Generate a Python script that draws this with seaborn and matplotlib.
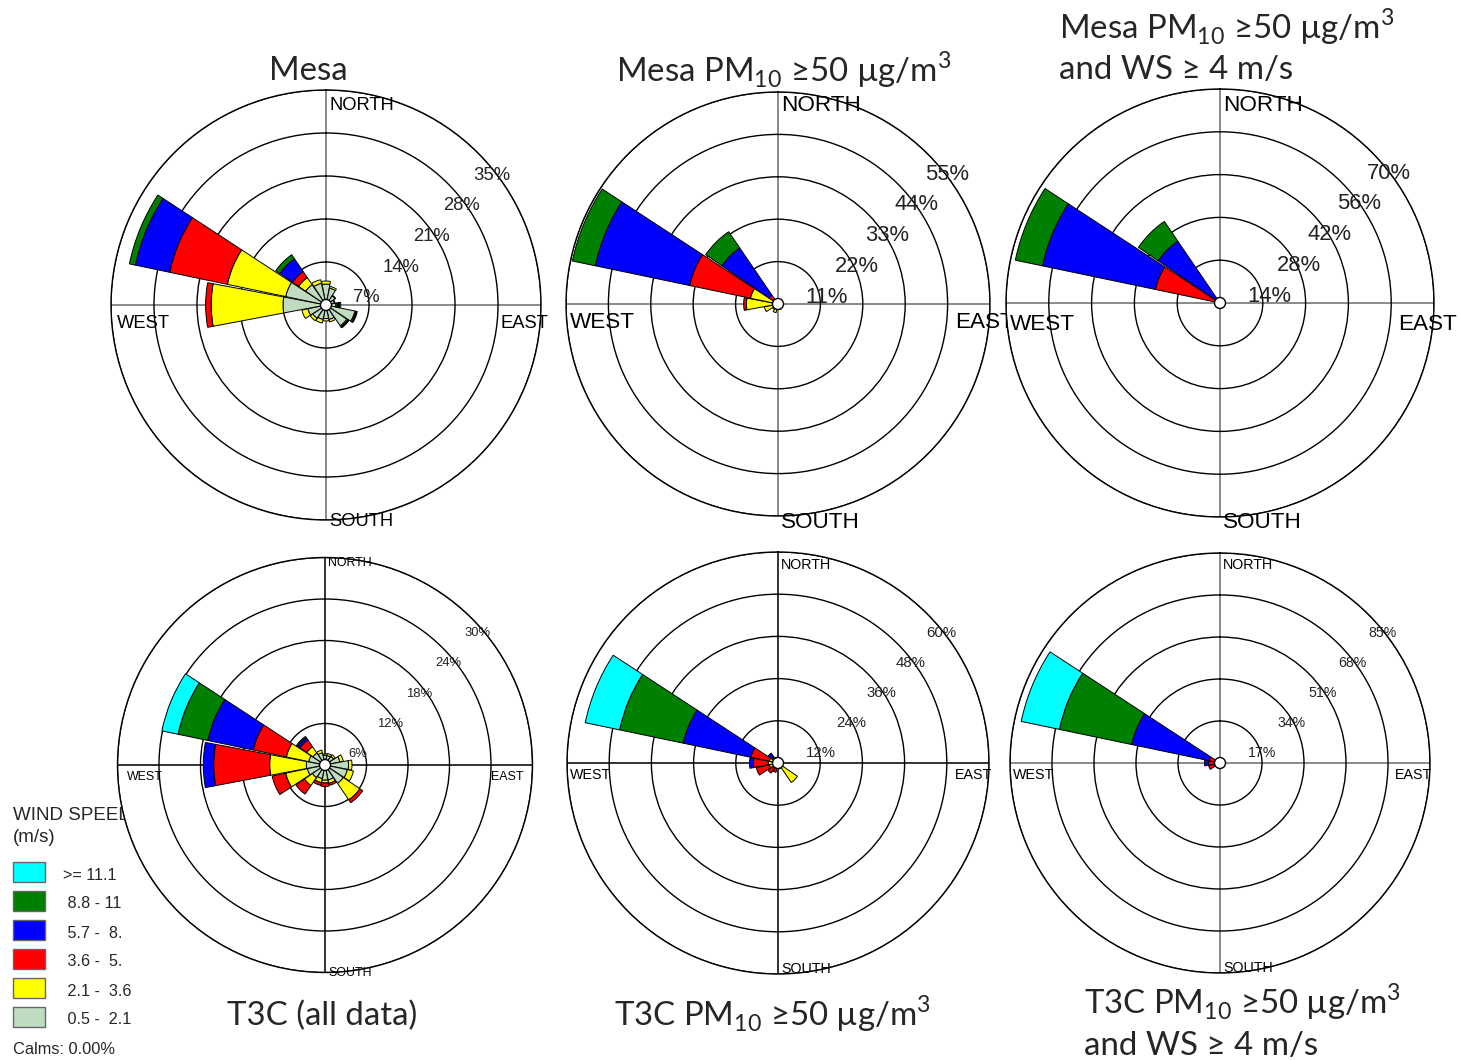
import numpy as np
import matplotlib
matplotlib.use("Agg")
import matplotlib.pyplot as plt
import seaborn as sns
from matplotlib.patches import Circle, Rectangle

sns.set_theme(style="white")
plt.rcParams['font.family'] = ['Liberation Sans', 'DejaVu Sans']

# ---------------- data ----------------
directions = ["N", "NNE", "NE", "ENE", "E", "ESE", "SE", "SSE",
              "S", "SSW", "SW", "WSW", "W", "WNW", "NW", "NNW"]
speed_classes = [" 0.5 -  2.1", " 2.1 -  3.6", " 3.6 -  5.", " 5.7 -  8.", " 8.8 - 11", ">= 11.1"]
class_colors = ["#C0DCC0", "#FFFF00", "#FF0000", "#0000FF", "#008000", "#00FFFF"]

# frequency (%) per speed class (low -> high), directions N clockwise
mesa_all = [
    [3.4, 2.8, 1.8, 1.4, 1.6, 4.8, 4.1, 2.4, 2.2, 2.4, 2.6, 3.0, 7.0, 6.7, 4.0, 3.6],
    [0.5, 0.3, 0.1, 0.1, 0.2, 0.2, 0.2, 0.4, 0.4, 0.6, 0.5, 1.0, 11.7, 9.7, 1.4, 0.6],
    [0, 0, 0, 0, 0.2, 0.05, 0.05, 0, 0, 0, 0, 0, 0.9, 9.6, 1.2, 0],
    [0, 0, 0, 0, 0.1, 0.05, 0.05, 0, 0, 0, 0, 0, 0, 5.7, 2.5, 0],
    [0, 0, 0, 0, 0.1, 0.1, 0.1, 0, 0, 0, 0, 0, 0, 1.0, 0.8, 0],
    [0, 0, 0, 0, 0.2, 0, 0, 0, 0, 0, 0, 0, 0, 0, 0, 0],
]
mesa_pm = [
    [0, 0, 0, 0, 0, 0, 0, 1.2, 1.0, 0.3, 0.2, 0.3, 0.3, 0.3, 0, 0],
    [0, 0, 0, 0, 0, 0, 0, 0.3, 0, 2.0, 1.5, 3.3, 7.9, 7.0, 1.2, 0],
    [0, 0, 0, 0, 0, 0, 0, 0, 0, 0, 0, 0, 0.7, 16.1, 1.6, 0],
    [0, 0, 0, 0, 0, 0, 0, 0, 0, 0, 0, 0, 0, 25.0, 14.8, 0],
    [0, 0, 0, 0, 0, 0, 0, 0, 0, 0, 0, 0, 0, 6.1, 5.1, 0],
    [0] * 16,
]
mesa_pm_ws = [
    [0] * 16,
    [0] * 16,
    [0, 0, 0, 0, 0, 0, 0, 0, 0, 0, 0, 0, 0, 21.6, 1.0, 0],
    [0, 0, 0, 0, 0, 0, 0, 0, 0, 0, 0, 0, 0, 37.7, 23.5, 0],
    [0, 0, 0, 0, 0, 0, 0, 0, 0, 0, 0, 0, 0, 9.1, 7.8, 0],
    [0] * 16,
]
t3c_all = [
    [1.4, 1.4, 1.5, 2.2, 3.4, 3.3, 3.2, 2.2, 2.2, 2.0, 2.2, 2.6, 2.7, 2.4, 2.1, 1.8],
    [0.2, 0.3, 0.3, 0.5, 0.5, 0.9, 2.9, 0.5, 0.4, 0.6, 1.4, 3.2, 5.3, 3.3, 1.1, 0.4],
    [0, 0, 0, 0, 0, 0, 0.5, 0.3, 0.5, 0.4, 1.5, 2.0, 8.1, 4.9, 1.2, 0],
    [0, 0, 0, 0, 0, 0, 0, 0, 0, 0, 0, 0, 1.5, 6.7, 0.4, 0],
    [0, 0, 0, 0, 0, 0, 0, 0, 0, 0, 0, 0, 0, 4.4, 0.2, 0],
    [0, 0, 0, 0, 0, 0, 0, 0, 0, 0, 0, 0, 0, 2.4, 0, 0],
]
t3c_pm = [
    [0.5, 0, 0, 0, 0.8, 0.5, 1.2, 1.2, 1.0, 0, 0, 0, 0, 0, 0, 0.5],
    [0, 0, 0, 0, 0, 0, 5.5, 0.5, 0.5, 1.2, 1.5, 2.5, 2.8, 2.5, 1.0, 1.2],
    [0, 0, 0, 0, 0, 0, 0, 0, 0, 1.5, 2.0, 3.8, 4.2, 5.4, 1.2, 0],
    [0, 0, 0, 0, 0, 0, 0, 0, 0, 0, 0, 0, 1.1, 19.6, 1.2, 0],
    [0, 0, 0, 0, 0, 0, 0, 0, 0, 0, 0, 0, 0, 18.5, 0, 0],
    [0, 0, 0, 0, 0, 0, 0, 0, 0, 0, 0, 0, 0, 10.0, 0, 0],
]
t3c_pm_ws = [
    [0] * 16,
    [0, 0, 0, 0, 0, 0, 0, 0, 0, 0, 0.3, 0.5, 0.5, 0.5, 0.3, 0],
    [0, 0, 0, 0, 0, 0, 0, 0, 0, 0, 1.2, 4.2, 4.1, 4.0, 1.5, 0],
    [0, 0, 0, 0, 0, 0, 0, 0, 0, 0, 0, 0, 1.7, 32.0, 0, 0],
    [0, 0, 0, 0, 0, 0, 0, 0, 0, 0, 0, 0, 0, 29.9, 0, 0],
    [0, 0, 0, 0, 0, 0, 0, 0, 0, 0, 0, 0, 0, 15.8, 0, 0],
]
ring_max = [35, 55, 70, 30, 60, 85]
calms_text = "Calms: 0.00%"

# ---------------- layout ----------------
W, H = 1461, 1061
fig = plt.figure(figsize=(W / 100, H / 100), dpi=100)
fig.patch.set_facecolor("white")

panel_data = [mesa_all, mesa_pm, mesa_pm_ws, t3c_all, t3c_pm, t3c_pm_ws]
geom = [(326, 305, 215), (778, 304, 212), (1220, 303, 214),
        (325, 765, 207.5), (778, 763, 211), (1220, 763, 210)]
dir_fs = [13.2, 16.2, 16.2, 8.9, 10.3, 10.3]
pct_fs = [13.3, 15.8, 15.8, 9.4, 10.8, 10.2]
cross_col = ["#777777", "#777777", "#777777", "#111111", "#111111", "#777777"]
# label offsets (px) relative to R
north_off = [16, 13, 16, 5.5, 13, 12]       # dy_up = R - off
south_off = [2, 7, 6, 0, -5, -5]            # dy_down = R + off
west_off = [6, 4, 4, 9.5, 3, 3]             # dx = -(R - off)
east_off = [41, 35, 36, 41.5, 34, 35]       # dx = R - off
west_dy = [18, 19, 21, 12, 12, 12]
pct_pat = [(27, 30, 7, 30.7), (27, 30, 7, 30.7), (27, 30, 7, 30.7),
           (23, 29, 11, 30.2), (28, 30, 10, 30.0), (28, 30, 10, 30.0)]

theta = np.deg2rad(np.arange(16) * 22.5)
width = np.deg2rad(22.5 * 0.95)

for i, (data, rmax, (cx, cy, R)) in enumerate(zip(panel_data, ring_max, geom)):
    ax = fig.add_axes([(cx - R) / W, 1 - (cy + R) / H, 2 * R / W, 2 * R / H],
                      projection="polar")
    ax.set_facecolor("white")
    ax.set_theta_zero_location("N")
    ax.set_theta_direction(-1)
    ax.set_ylim(0, rmax)
    rings = np.linspace(rmax / 5, rmax, 5)
    ax.set_yticks(rings)
    ax.set_yticklabels([])
    ax.set_xticks(np.deg2rad([0, 90, 180, 270]))
    ax.set_xticklabels([])
    ax.yaxis.grid(True, color="black", lw=1.0)
    ax.xaxis.grid(True, color=cross_col[i], lw=1.2)
    ax.spines["polar"].set_color("black")
    ax.spines["polar"].set_linewidth(1.0)
    ax.set_axisbelow(True)

    bottom = np.zeros(16)
    for vals, col in zip(data, class_colors):
        vals = np.asarray(vals, dtype=float)
        mask = vals > 0
        if mask.any():
            ax.bar(theta[mask], vals[mask], width=width, bottom=bottom[mask],
                   color=col, edgecolor="black", linewidth=0.7, zorder=3)
        bottom += vals

    ax.add_patch(Circle((0.5, 0.5), 5.5 / (2 * R), transform=ax.transAxes,
                        facecolor="white", edgecolor="black", lw=1.0, zorder=6))

    def axpos(dx, dy_up):
        return 0.5 + dx / (2 * R), 0.5 + dy_up / (2 * R)

    fs = dir_fs[i]
    for txt, (dx, dy) in [("NORTH", (3, R - north_off[i])),
                          ("SOUTH", (3, -(R + south_off[i]))),
                          ("WEST", (-(R - west_off[i]), -west_dy[i])),
                          ("EAST", (R - east_off[i], -west_dy[i]))]:
        x, y = axpos(dx, dy)
        ax.text(x, y, txt, transform=ax.transAxes, fontsize=fs, ha="left",
                va="center", color="black", zorder=7)

    x0, xs, y0, ys = pct_pat[i]
    for k, rv in enumerate(rings):
        x, y = axpos(x0 + xs * k, y0 + ys * k)
        ax.text(x, y, f"{int(round(rv))}%", transform=ax.transAxes,
                fontsize=pct_fs[i], ha="left", va="center", color="#222222", zorder=7)

# ---------------- titles ----------------
tfont = ['Lato', 'DejaVu Sans']
tfs = 23.8
pm = r"PM$_{\mathregular{10}}$ ≥50 µg/m$^{\mathregular{3}}$"
def ftitle(x, y, s, ha):
    fig.text(x / W, 1 - y / H, s, fontsize=tfs, family=tfont, ha=ha, va="center")
ftitle(308, 71, "Mesa", "center")
ftitle(784, 70, "Mesa " + pm, "center")
ftitle(1059, 27, "Mesa " + pm, "left")
ftitle(1059, 70, "and WS ≥ 4 m/s", "left")
ftitle(322, 1016, "T3C (all data)", "center")
ftitle(773, 1014, "T3C " + pm, "center")
ftitle(1084, 1002, "T3C " + pm, "left")
ftitle(1084, 1046, "and WS ≥ 4 m/s", "left")

# ---------------- legend ----------------
fig.text(13 / W, 1 - 815 / H, "WIND SPEED", fontsize=13.5, ha="left", va="center", zorder=-1)
fig.text(13 / W, 1 - 838 / H, "(m/s)", fontsize=13.5, ha="left", va="center", zorder=-1)
for j, (lab, col) in enumerate(zip(speed_classes[::-1], class_colors[::-1])):
    ytop = 862 + 29 * j
    fig.add_artist(Rectangle((13 / W, 1 - (ytop + 20) / H), 32 / W, 20 / H,
                             transform=fig.transFigure, facecolor=col,
                             edgecolor="#666666", lw=1.0, zorder=-1))
    fig.text(63 / W, 1 - (ytop + 13) / H, lab, fontsize=11.6, ha="left", va="center", zorder=-1)
fig.text(13 / W, 1 - 1049 / H, calms_text, fontsize=11.8, ha="left", va="center", zorder=-1)

fig.savefig("out.png", dpi=100, facecolor="white")
